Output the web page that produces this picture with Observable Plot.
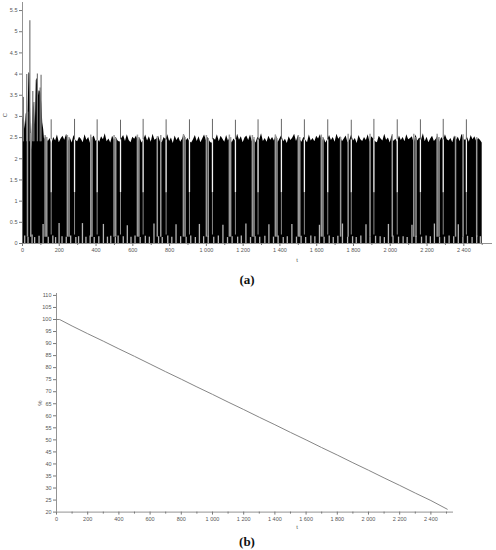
<!DOCTYPE html>
<html>
<head>
<meta charset="utf-8">
<script src="https://cdn.jsdelivr.net/npm/d3@7"></script>
<script src="https://cdn.jsdelivr.net/npm/@observablehq/plot@0.6"></script>
<style>
  html, body { margin: 0; padding: 0; background: #fff; }
  #wrap { position: relative; width: 496px; height: 550px; overflow: hidden; background: #fff; }
  .panel { position: absolute; left: 0; }
  .lbl { position: absolute; font-family: "Liberation Sans", Arial, sans-serif; color: #555; font-size: 6px; line-height: 1; white-space: nowrap; transform: translate(-50%, -50%); }
  .cap { position: absolute; font-family: "Liberation Serif", "DejaVu Serif", serif; font-weight: bold; color: #111; font-size: 13px; line-height: 1; transform: translate(-50%, -50%); }
</style>
</head>
<body>
<div id="wrap">
  <div id="pa" class="panel" style="top:0px"></div>
  <div id="pb" class="panel" style="top:285px"></div>
  <div class="lbl" style="left:5px; top:115px; transform: translate(-50%,-50%) rotate(-90deg);">C</div>
  <div class="lbl" style="left:297px; top:260px;">t</div>
  <div class="cap" style="left:247px; top:279px;">(a)</div>
  <div class="lbl" style="left:40px; top:403px; transform: translate(-50%,-50%) rotate(-90deg);">%</div>
  <div class="lbl" style="left:297px; top:527px;">t</div>
  <div class="cap" style="left:247px; top:541px;">(b)</div>
</div>
<script>
// ---------- Panel (a) data ----------
// early transient (black envelope)
const earlyT   = [0, 5, 10, 15, 20, 25, 30, 35, 40, 45, 50, 55, 60, 65, 70, 75, 80, 85, 90, 95, 100, 105, 110, 115, 120, 125];
const earlyTop = [2.9, 3.0, 2.95, 2.7, 3.05, 3.1, 3.0, 4.04, 4.0, 2.9, 2.2, 2.95, 3.33, 3.2, 2.8, 3.85, 3.9, 3.4, 3.6, 3.6, 3.55, 3.3, 2.85, 2.7, 2.45, 2.5];
// early peaks (grey spikes above the black)
const earlyPeakT = [5, 23, 40, 56, 62, 81, 96, 101];
const earlyPeakC = [3.45, 3.99, 5.26, 3.59, 3.33, 4.0, 3.67, 3.97];
// steady oscillation band: top envelope sampled every 10 t from t = 130
const bandT0 = 130, bandDt = 10;
const bandTop = [
  2.52, 2.40, 2.48, 2.36, 2.50, 2.42, 2.56, 2.38, 2.47, 2.53,
  2.44, 2.58, 2.41, 2.49, 2.37, 2.55, 2.43, 2.40, 2.51, 2.46,
  2.38, 2.57, 2.44, 2.50, 2.36, 2.48, 2.54, 2.41, 2.46, 2.39,
  2.52, 2.45, 2.59, 2.40, 2.47, 2.37, 2.53, 2.44, 2.50, 2.42,
  2.39, 2.48, 2.55, 2.41, 2.57, 2.43, 2.38, 2.51, 2.46, 2.54,
  2.40, 2.49, 2.37, 2.45, 2.56, 2.42, 2.52, 2.39, 2.58, 2.44,
  2.47, 2.53, 2.40, 2.38, 2.50, 2.45, 2.57, 2.41, 2.49, 2.36,
  2.54, 2.43, 2.51, 2.39, 2.46, 2.58, 2.42, 2.48, 2.40, 2.37,
  2.45, 2.55, 2.41, 2.52, 2.38, 2.47, 2.56, 2.43, 2.50, 2.40,
  2.36, 2.48, 2.44, 2.57, 2.40, 2.53, 2.46, 2.39, 2.55, 2.42,
  2.50, 2.37, 2.47, 2.41, 2.58, 2.44, 2.52, 2.38, 2.49, 2.54,
  2.43, 2.56, 2.40, 2.46, 2.37, 2.51, 2.45, 2.59, 2.41, 2.48,
  2.39, 2.53, 2.44, 2.50, 2.42, 2.57, 2.38, 2.47, 2.55, 2.40,
  2.46, 2.36, 2.52, 2.43, 2.49, 2.58, 2.41, 2.54, 2.45, 2.39,
  2.51, 2.44, 2.38, 2.56, 2.42, 2.48, 2.40, 2.53, 2.47, 2.57,
  2.41, 2.49, 2.37, 2.45, 2.55, 2.43, 2.50, 2.39, 2.58, 2.46,
  2.52, 2.40, 2.47, 2.54, 2.38, 2.44, 2.56, 2.42, 2.48, 2.36,
  2.55, 2.45, 2.41, 2.50, 2.43, 2.57, 2.39, 2.52, 2.46, 2.40,
  2.38, 2.53, 2.47, 2.42, 2.58, 2.44, 2.49, 2.37, 2.55, 2.41,
  2.46, 2.39, 2.54, 2.43, 2.50, 2.40, 2.57, 2.45, 2.48, 2.52,
  2.37, 2.56, 2.42, 2.49, 2.44, 2.59, 2.40, 2.51, 2.38, 2.47,
  2.53, 2.41, 2.46, 2.55, 2.39, 2.50, 2.43, 2.57, 2.45, 2.42,
  2.48, 2.38, 2.54, 2.44, 2.51, 2.40, 2.58, 2.46, 2.43, 2.50,
  2.39, 2.55, 2.45, 2.52, 2.41, 2.48, 2.44, 2.37
];
// periodic spikes
const spikeT = [156, 283, 406, 533, 656, 781, 908, 1033, 1158, 1281, 1408, 1533, 1660, 1788, 1911, 2038, 2164, 2288, 2414];
const spikeC = [2.92, 2.93, 2.92, 2.91, 2.93, 2.92, 2.92, 2.93, 2.91, 2.92, 2.93, 2.92, 2.92, 2.91, 2.93, 2.92, 2.92, 2.93, 2.92];
// lighter grey traces inside the band
const greyT = [27, 45, 123, 132, 244, 253, 371, 378, 498, 507, 625, 633, 733, 752, 875, 884, 1000, 1010, 1125, 1132, 1250, 1259, 1375, 1384, 1500, 1508, 1625, 1634, 1730, 1771, 1890, 2011, 2128, 2140, 2255, 2265, 2355, 2396, 2470];
const greyC = [3.1, 2.6, 2.55, 2.5, 2.55, 2.5, 2.56, 2.5, 2.55, 2.48, 2.56, 2.5, 2.52, 2.55, 2.56, 2.5, 2.55, 2.48, 2.56, 2.5, 2.55, 2.5, 2.56, 2.48, 2.55, 2.5, 2.56, 2.5, 2.5, 2.58, 2.58, 2.57, 2.58, 2.5, 2.58, 2.5, 2.52, 2.57, 2.5];
// small stubs along the bottom
const stubT = [12, 30, 52, 66, 90, 112, 140, 165, 180, 199, 215, 238, 262, 290, 305, 326, 345, 368, 390, 415, 440, 462, 480, 505, 520, 548, 570, 590, 612, 640, 668, 690, 715, 740, 760, 790, 812, 835, 860, 890, 915, 940, 962, 985, 1010, 1040, 1065, 1090, 1115, 1140, 1170, 1190, 1215, 1240, 1265, 1290, 1318, 1340, 1365, 1390, 1418, 1440, 1465, 1490, 1515, 1540, 1568, 1590, 1615, 1640, 1668, 1690, 1715, 1740, 1768, 1795, 1815, 1840, 1868, 1890, 1920, 1945, 1968, 1990, 2015, 2045, 2070, 2092, 2118, 2140, 2170, 2195, 2218, 2240, 2268, 2295, 2320, 2345, 2370, 2395, 2420, 2445, 2470, 2490];
const stubC = [0.18, 0.15, 0.2, 0.14, 0.17, 0.45, 0.15, 0.18, 0.14, 0.47, 0.16, 0.15, 0.18, 0.14, 0.16, 0.47, 0.15, 0.18, 0.14, 0.16, 0.45, 0.15, 0.17, 0.14, 0.18, 0.16, 0.42, 0.15, 0.18, 0.14, 0.17, 0.15, 0.46, 0.16, 0.14, 0.18, 0.15, 0.44, 0.16, 0.15, 0.18, 0.14, 0.45, 0.16, 0.17, 0.15, 0.18, 0.43, 0.14, 0.16, 0.15, 0.18, 0.46, 0.14, 0.16, 0.15, 0.17, 0.44, 0.15, 0.18, 0.14, 0.16, 0.45, 0.15, 0.17, 0.14, 0.18, 0.16, 0.43, 0.15, 0.18, 0.14, 0.17, 0.46, 0.15, 0.16, 0.14, 0.18, 0.44, 0.15, 0.17, 0.16, 0.14, 0.45, 0.18, 0.15, 0.16, 0.14, 0.43, 0.17, 0.15, 0.18, 0.16, 0.46, 0.14, 0.15, 0.18, 0.16, 0.44, 0.15, 0.17, 0.14, 0.18, 0.16];
const xTicksA = [0, 200, 400, 600, 800, 1000, 1200, 1400, 1600, 1800, 2000, 2200, 2400];
const xMinorA = [100, 300, 500, 700, 900, 1100, 1300, 1500, 1700, 1900, 2100, 2300, 2500];
const yTicksA = [0, 0.5, 1, 1.5, 2, 2.5, 3, 3.5, 4, 4.5, 5, 5.5];

// ---------- Panel (b) data ----------
const bT = [0, 20, 100, 200, 300, 400, 500, 600, 700, 800, 900, 1000, 1100, 1200, 1300, 1400, 1500, 1600, 1700, 1800, 1900, 2000, 2100, 2200, 2300, 2400, 2505];
const bV = [100, 100, 97.3, 94.1, 91.0, 87.8, 84.7, 81.5, 78.3, 75.2, 72.0, 68.9, 65.7, 62.6, 59.4, 56.3, 53.1, 50.0, 46.8, 43.7, 40.5, 37.4, 34.2, 31.1, 27.9, 24.8, 21.2];
const xTicksB = [0, 200, 400, 600, 800, 1000, 1200, 1400, 1600, 1800, 2000, 2200, 2400];
const xMinorB = [100, 300, 500, 700, 900, 1100, 1300, 1500, 1700, 1900, 2100, 2300, 2500];
const yTicksB = [20, 25, 30, 35, 40, 45, 50, 55, 60, 65, 70, 75, 80, 85, 90, 95, 100, 105, 110];

// ---------- build ----------
const fmtK = d3.formatLocale({decimal: ".", thousands: " ", grouping: [3], currency: ["", ""]}).format(",");
const fmtX = d => d >= 1000 ? fmtK(d) : String(d);
const fmtY = d => String(d);

const rowsA = earlyT.map((t, i) => ({t, c: earlyTop[i]}))
  .concat(bandTop.map((c, i) => ({t: bandT0 + i * bandDt, c})));
const peaks = earlyPeakT.map((t, i) => ({t, c: earlyPeakC[i]}));
const spikes = spikeT.map((t, i) => ({t, c: spikeC[i]}));
const greys = greyT.map((t, i) => ({t, c: greyC[i]}));
const stubs = stubT.map((t, i) => ({t, c: stubC[i]}));

const axisStyle = {fontSize: "5.5px", fontFamily: "Liberation Sans, Arial, sans-serif", color: "#555", background: "transparent"};

const pa = Plot.plot({
  width: 496, height: 270,
  marginLeft: 22, marginRight: 4, marginTop: 2, marginBottom: 27,
  style: axisStyle,
  x: {domain: [0, 2556]},
  y: {domain: [0, 5.69]},
  marks: [
    Plot.areaY(rowsA, {x: "t", y: "c", fill: "#000", curve: "linear"}),
    Plot.ruleX(peaks, {x: "t", y1: 2.4, y2: "c", stroke: "#777", strokeWidth: 1.2}),
    Plot.ruleX(greys, {x: "t", y1: 0.15, y2: "c", stroke: "#9a9a9a", strokeWidth: 1.5}),
    Plot.ruleX(spikes, {x: "t", y1: 0.2, y2: 1.2, stroke: "#8a8a8a", strokeWidth: 1}),
    Plot.ruleX(spikes, {x: "t", y1: 1.2, y2: 2.45, stroke: "#f4f4f4", strokeWidth: 1.3}),
    Plot.ruleX(spikes, {x: "t", y1: 2.45, y2: "c", stroke: "#666", strokeWidth: 1}),
    Plot.ruleX(stubs, {x: "t", y1: 0, y2: "c", stroke: "#b5b5b5", strokeWidth: 1.3}),
    Plot.ruleY([0], {stroke: "#777", strokeWidth: 0.8}),
    Plot.ruleX([0], {stroke: "#777", strokeWidth: 0.8}),
    Plot.axisX(xTicksA, {tickFormat: fmtX, tickSize: 3, tickPadding: 2, stroke: "#777", label: null}),
    Plot.axisX(xMinorA, {tickFormat: () => "", tickSize: 2, stroke: "#777", label: null}),
    Plot.axisY(yTicksA, {tickFormat: fmtY, tickSize: 3, tickPadding: 2, stroke: "#777", label: null})
  ]
});
document.getElementById("pa").appendChild(pa);

const rowsB = bT.map((t, i) => ({t, v: bV[i]}));
const pb = Plot.plot({
  width: 496, height: 245,
  marginLeft: 56, marginRight: 43, marginTop: 8, marginBottom: 18.4,
  style: axisStyle,
  x: {domain: [0, 2545]},
  y: {domain: [20, 110.8]},
  marks: [
    Plot.lineY(rowsB, {x: "t", y: "v", stroke: "#777", strokeWidth: 0.9}),
    Plot.ruleY([20], {stroke: "#777", strokeWidth: 0.8}),
    Plot.ruleX([0], {stroke: "#777", strokeWidth: 0.8}),
    Plot.axisX(xTicksB, {tickFormat: fmtX, tickSize: 3, tickPadding: 2, stroke: "#777", label: null}),
    Plot.axisX(xMinorB, {tickFormat: () => "", tickSize: 2, stroke: "#777", label: null}),
    Plot.axisY(yTicksB, {tickFormat: fmtY, tickSize: 3, tickPadding: 2, stroke: "#777", label: null})
  ]
});
document.getElementById("pb").appendChild(pb);
</script>
</body>
</html>
